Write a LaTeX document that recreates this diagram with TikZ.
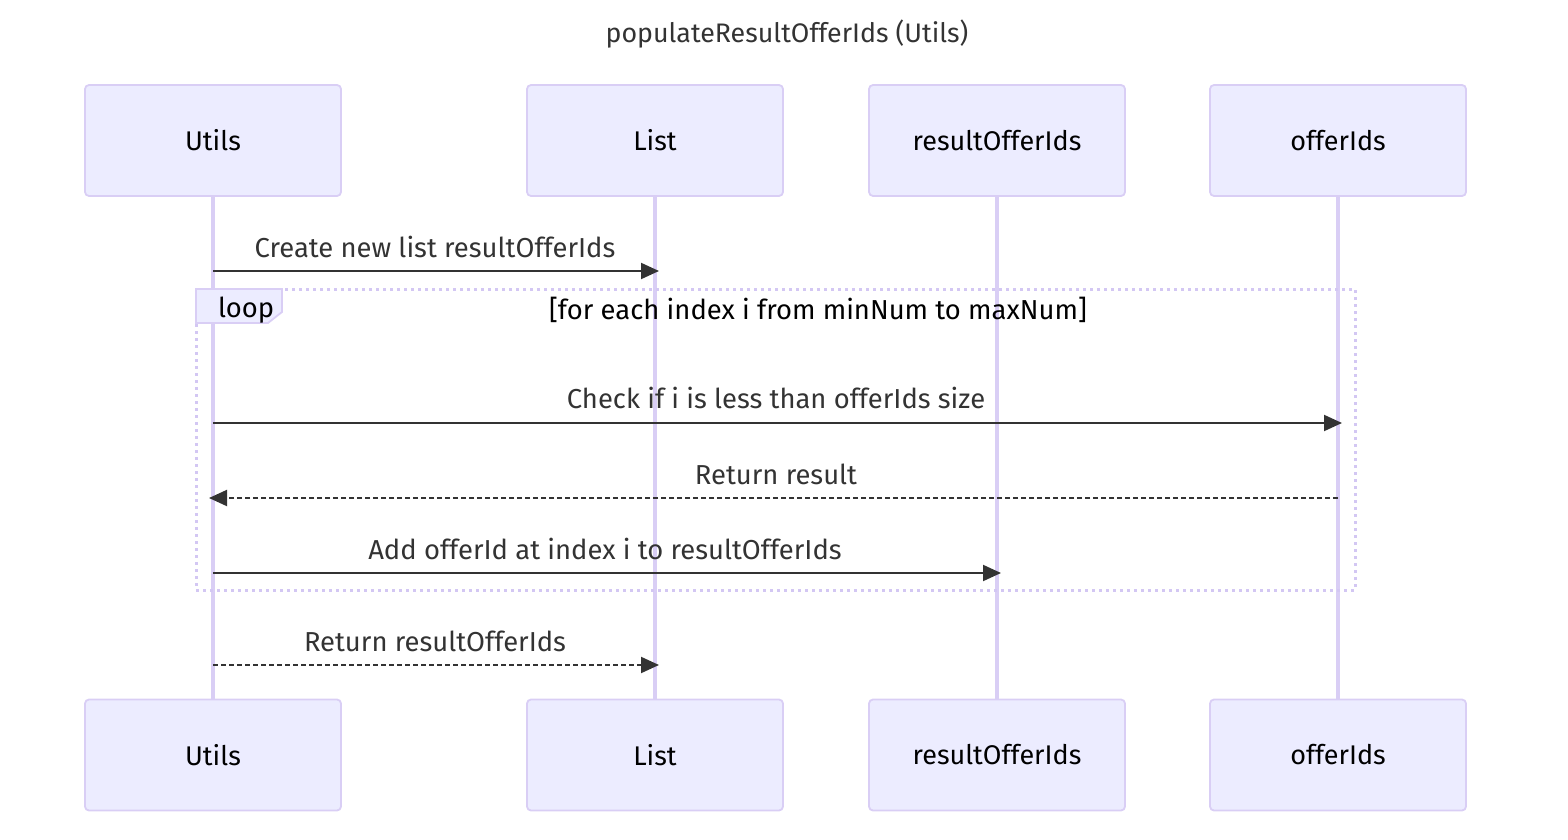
\documentclass[tikz,border=0pt]{standalone}
\usepackage{fontspec}
\setmainfont{Fira Sans}
\usetikzlibrary{arrows.meta}
\definecolor{actfill}{HTML}{ECECFF}
\definecolor{actline}{HTML}{D9CEF5}
\definecolor{life}{HTML}{D9CEF5}
\definecolor{loopline}{HTML}{D3C7F3}
\definecolor{msg}{HTML}{333333}
\tikzset{
  actor/.style={draw=actline, line width=0.9pt, fill=actfill, rounded corners=2pt, minimum width=128pt, minimum height=55.5pt, inner sep=0pt, font=\fontsize{13.5}{15}\selectfont, text=black},
  lifeline/.style={draw=life, line width=1.6pt},
  msgline/.style={draw=msg, line width=1pt, -{Triangle[length=9pt,width=8pt]}},
  retline/.style={msgline, dash pattern=on 2.5pt off 1.5pt},
  msglabel/.style={font=\fontsize{13.7}{15}\selectfont, text=msg, inner sep=0pt},
  loopbox/.style={draw=loopline, line width=1.5pt, dash pattern=on 1.5pt off 2pt},
}
\begin{document}
\begin{tikzpicture}[x=0.5pt,y=-0.5pt]
\useasboundingbox (0,0) rectangle (1568,840);
\node[font=\fontsize{13.4}{15}\selectfont, text=msg] (title) at (787,34) {populateResultOfferIds (Utils)};
% actors
\node[actor] (uT) at (213,140.5) {Utils};
\node[actor] (lT) at (655,140.5) {List};
\node[actor] (rT) at (997,140.5) {resultOfferIds};
\node[actor] (oT) at (1338,140.5) {offerIds};
\node[actor] (uB) at (213,755) {Utils};
\node[actor] (lB) at (655,755) {List};
\node[actor] (rB) at (997,755) {resultOfferIds};
\node[actor] (oB) at (1338,755) {offerIds};
% lifelines
\draw[lifeline] (uT.south) -- (uB.north);
\draw[lifeline] (lT.south) -- (lB.north);
\draw[lifeline] (rT.south) -- (rB.north);
\draw[lifeline] (oT.south) -- (oB.north);
% coordinates
\coordinate (u1) at (213,271); \coordinate (l1) at (659,271);
\coordinate (u2) at (213,423); \coordinate (o2) at (1342,423);
\coordinate (o3) at (1338,498); \coordinate (u3) at (209,498);
\coordinate (u4) at (213,573); \coordinate (r4) at (1001,573);
\coordinate (u5) at (213,665); \coordinate (l5) at (659,665);
% loop
\draw[loopbox] (196,289) rectangle (1355,590);
\draw[draw=actline, line width=0.9pt, fill=actfill] (196,289) -- (282,289) -- (282,312) -- (268,323) -- (196,323) -- cycle;
\node[font=\fontsize{13.7}{15}\selectfont, text=black, anchor=west] (looplbl) at (211,310) {loop};
\node[font=\fontsize{13.7}{15}\selectfont, text=black] (cond) at (818,310) {[for each index i from minNum to maxNum]};
% messages
\draw[msgline] (u1) -- (l1);
\node[msglabel] (m1) at (435,247) {Create new list resultOfferIds};
\draw[msgline] (u2) -- (o2);
\node[msglabel] (m2) at (776,398) {Check if i is less than offerIds size};
\draw[retline] (o3) -- (u3);
\node[msglabel] (m3) at (776,474) {Return result};
\draw[msgline] (u4) -- (r4);
\node[msglabel] (m4) at (605,549) {Add offerId at index i to resultOfferIds};
\draw[retline] (u5) -- (l5);
\node[msglabel] (m5) at (435,641) {Return resultOfferIds};
\end{tikzpicture}
\end{document}
